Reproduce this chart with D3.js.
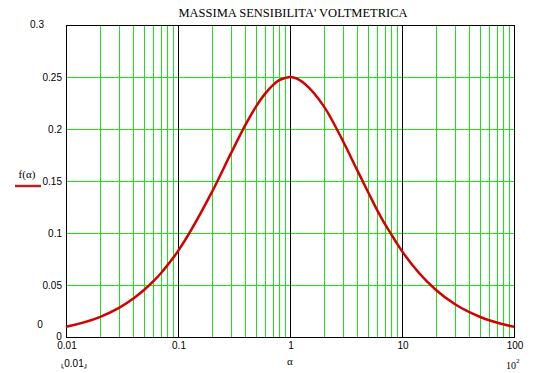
<!DOCTYPE html>
<html>
<head>
<meta charset="utf-8">
<script src="https://cdn.jsdelivr.net/npm/d3@7"></script>
<style>
  body { margin: 0; background: #fff; }
  svg { display: block; }
  .tick-lbl { font-family: "Liberation Sans", Arial, sans-serif; font-size: 10px; fill: #000; }
  .serif { font-family: "Liberation Serif", "Times New Roman", serif; fill: #000; }
</style>
</head>
<body>
<div id="graphContainer"></div>
<script>
// values (alpha on a log axis, f(alpha))
var alphaValues = [0.01, 0.02, 0.03, 0.04, 0.05, 0.06, 0.07, 0.08, 0.09,
                   0.1, 0.2, 0.3, 0.4, 0.5, 0.6, 0.7, 0.8, 0.9,
                   1, 2, 3, 4, 5, 6, 7, 8, 9,
                   10, 20, 30, 40, 50, 60, 70, 80, 90, 100];
var fValues = [0.0098, 0.0192, 0.0283, 0.037, 0.0454, 0.0534, 0.0611, 0.0686, 0.0757,
               0.0826, 0.139, 0.1775, 0.204, 0.222, 0.234, 0.242, 0.247, 0.249,
               0.25, 0.222, 0.1875, 0.16, 0.139, 0.122, 0.109, 0.099, 0.09,
               0.0826, 0.0454, 0.0312, 0.0238, 0.0192, 0.0161, 0.0139, 0.0122, 0.0109, 0.0098];
var xTickLabels = ["0.01", "0.1", "1", "10", "100"];
var yTicks = [0.05, 0.1, 0.15, 0.2, 0.25];
var title = "MASSIMA SENSIBILITA' VOLTMETRICA";

var width = 536, height = 373,
    margin = {top: 25, left: 66, right: 22, bottom: 36},
    chartWidth = width - margin.left - margin.right,
    chartHeight = height - margin.top - margin.bottom;

var svg = d3.select("#graphContainer").append("svg")
    .attr("width", width).attr("height", height);

var x = d3.scaleLog().domain([0.01, 100]).range([0, chartWidth]);
var y = d3.scaleLinear().domain([0, 0.3]).range([chartHeight, 0]);

var g = svg.append("g").attr("transform", "translate(" + [margin.left, margin.top] + ")");

// minor log gridlines (green) and decade lines (black)
var minor = [];
[0.01, 0.1, 1, 10].forEach(function (dec) {
    for (var k = 2; k <= 9; k++) minor.push(dec * k);
});
g.selectAll(".vgrid").data(minor).enter().append("line")
    .attr("x1", function (d) { return Math.round(x(d)) + 0.5; })
    .attr("x2", function (d) { return Math.round(x(d)) + 0.5; })
    .attr("y1", 0).attr("y2", chartHeight)
    .attr("stroke", "#1fe01f").attr("stroke-width", 1);

g.selectAll(".hgrid").data(yTicks).enter().append("line")
    .attr("x1", 0).attr("x2", chartWidth)
    .attr("y1", function (d) { return Math.round(y(d)) + 0.5; })
    .attr("y2", function (d) { return Math.round(y(d)) + 0.5; })
    .attr("stroke", "#1fe01f").attr("stroke-width", 1);

g.selectAll(".decade").data([0.1, 1, 10]).enter().append("line")
    .attr("x1", function (d) { return Math.round(x(d)) + 0.5; })
    .attr("x2", function (d) { return Math.round(x(d)) + 0.5; })
    .attr("y1", 0).attr("y2", chartHeight)
    .attr("stroke", "#000").attr("stroke-width", 1);

// frame
g.append("rect").attr("x", 0.5).attr("y", 0.5)
    .attr("width", chartWidth).attr("height", chartHeight)
    .attr("fill", "none").attr("stroke", "#000").attr("stroke-width", 1);

// curve
var data = alphaValues.map(function (a, i) { return {a: a, f: fValues[i]}; });
var line = d3.line()
    .x(function (d) { return x(d.a); })
    .y(function (d) { return y(d.f); })
    .curve(d3.curveMonotoneX);
g.append("path").datum(data)
    .attr("d", line)
    .attr("fill", "none")
    .attr("stroke", "#d40000")
    .attr("stroke-width", 2.5);

// y tick labels
g.selectAll(".ylbl").data(yTicks).enter().append("text")
    .attr("class", "tick-lbl")
    .attr("x", -4)
    .attr("y", function (d) { return y(d) + 3.5; })
    .attr("text-anchor", "end")
    .text(function (d) { return d; });
// axis limit labels, Mathcad style
svg.append("text").attr("class", "tick-lbl").attr("x", 37).attr("y", 28)
    .attr("text-anchor", "middle").text("0.3");
svg.append("text").attr("class", "tick-lbl").attr("x", 40).attr("y", 328)
    .attr("text-anchor", "middle").text("0");
svg.append("text").attr("class", "tick-lbl").attr("x", 59).attr("y", 340)
    .attr("text-anchor", "middle").text("0");

// x tick labels
g.selectAll(".xlbl").data(xTickLabels).enter().append("text")
    .attr("class", "tick-lbl")
    .attr("x", function (d) { return x(+d) + 1; })
    .attr("y", chartHeight + 12)
    .attr("text-anchor", "middle")
    .text(function (d) { return d; });

// x axis name and range placeholders
svg.append("text").attr("class", "serif").attr("x", 290).attr("y", 365)
    .attr("text-anchor", "middle").style("font-size", "11px").text("α");
svg.append("text").attr("class", "tick-lbl").attr("x", 74).attr("y", 367)
    .attr("text-anchor", "middle").text("0.01");
svg.append("path").attr("d", "M62,364V368H64 M84,368H86V364")
    .attr("fill", "none").attr("stroke", "#000").attr("stroke-width", 0.7);
var sup = svg.append("text").attr("class", "serif").attr("x", 506).attr("y", 369)
    .style("font-size", "10px");
sup.append("tspan").text("10");
sup.append("tspan").attr("dy", -6).style("font-size", "7px").text("2");

// legend
svg.append("text").attr("class", "serif").attr("x", 27).attr("y", 178)
    .attr("text-anchor", "middle").style("font-size", "11px").text("f(α)");
svg.append("line").attr("x1", 15).attr("x2", 41).attr("y1", 186).attr("y2", 186)
    .attr("stroke", "#b22222").attr("stroke-width", 2.5);

// title
svg.append("text").attr("class", "serif").attr("x", 293).attr("y", 17)
    .attr("text-anchor", "middle").style("font-size", "12.5px").text(title);
</script>
</body>
</html>
